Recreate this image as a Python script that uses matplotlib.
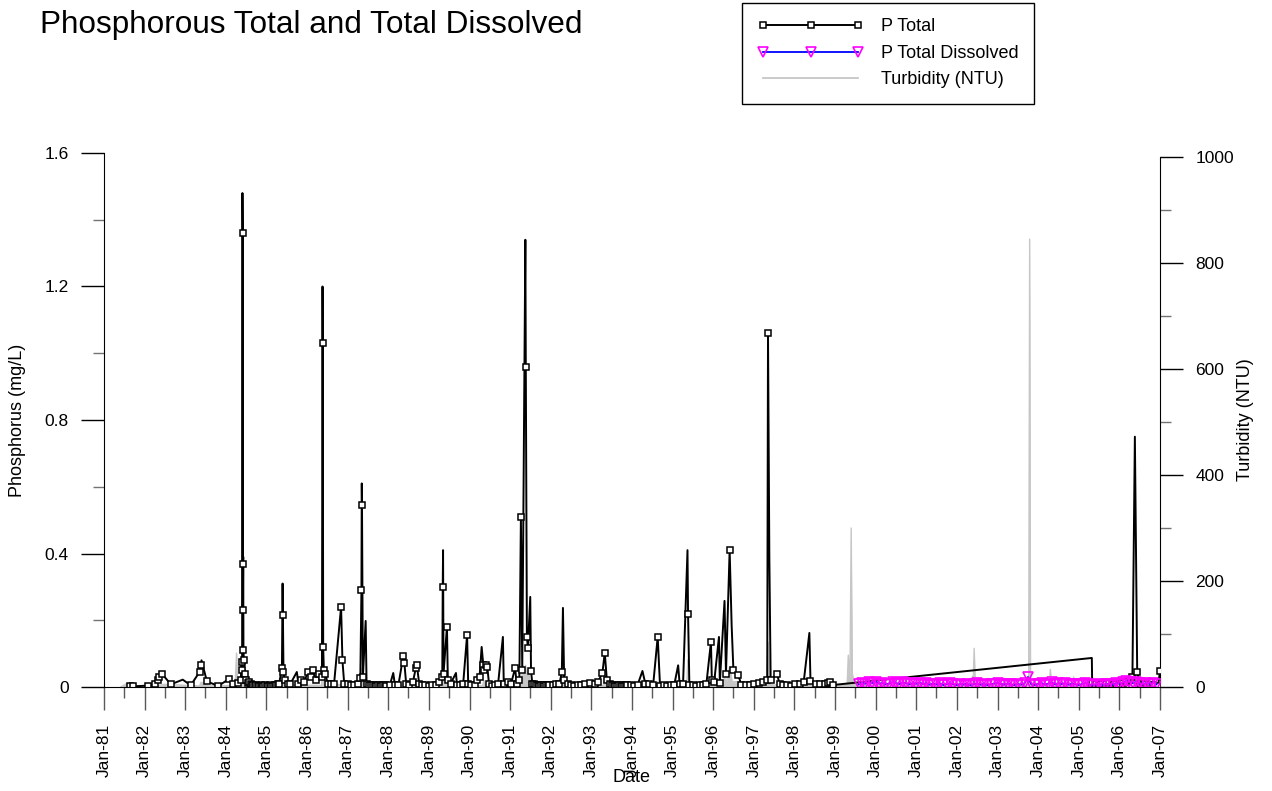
import pandas as pd
import matplotlib
matplotlib.use("Agg")
import matplotlib.pyplot as plt
import matplotlib.dates as mdates
from matplotlib.ticker import MultipleLocator, FuncFormatter
from matplotlib.lines import Line2D

plt.rcParams['font.family'] = ['Liberation Sans', 'DejaVu Sans']

# ---- P Total (mg/L) ----
p_dates = [
    '1981-08-20', '1981-09-15', '1982-01-28', '1982-04-05', '1982-04-28', '1982-05-12',
    '1982-06-05', '1982-08-25', '1982-12-10', '1983-02-20', '1983-05-10', '1983-05-20',
    '1983-05-28', '1983-07-15', '1983-10-25', '1984-01-30', '1984-03-10', '1984-04-20',
    '1984-05-15', '1984-05-22', '1984-05-27', '1984-05-30', '1984-06-01', '1984-06-03',
    '1984-06-05', '1984-06-06', '1984-06-08', '1984-06-12', '1984-06-20', '1984-07-05',
    '1984-07-20', '1984-08-01', '1984-08-12', '1984-08-25', '1984-09-05', '1984-09-20',
    '1984-10-01', '1984-10-15', '1984-10-28', '1984-11-10', '1984-11-22', '1984-12-05',
    '1984-12-18', '1985-01-05', '1985-01-18', '1985-02-01', '1985-02-15', '1985-03-01',
    '1985-03-15', '1985-04-01', '1985-04-12', '1985-04-25', '1985-05-20',
    '1985-05-26', '1985-05-29', '1985-06-03', '1985-06-15', '1985-07-10', '1985-08-05',
    '1985-10-01', '1985-10-15', '1985-11-10', '1985-12-05', '1986-01-10', '1986-02-01',
    '1986-02-25', '1986-03-20', '1986-04-15', '1986-05-15', '1986-05-20', '1986-05-22',
    '1986-05-26', '1986-06-01', '1986-06-15', '1986-07-05', '1986-08-01', '1986-09-01',
    '1986-11-03', '1986-11-15', '1986-12-01', '1987-01-05', '1987-02-01', '1987-03-01',
    '1987-04-01', '1987-04-25', '1987-05-05', '1987-05-08', '1987-05-10', '1987-05-18',
    '1987-06-12', '1987-06-20', '1987-07-15', '1987-08-01', '1987-08-15', '1987-09-01',
    '1987-09-15', '1987-10-01', '1987-10-15', '1987-11-01', '1987-11-15', '1987-12-01',
    '1987-12-15', '1988-01-15', '1988-02-15', '1988-03-01', '1988-04-01',
    '1988-05-15', '1988-05-25', '1988-06-10', '1988-07-10', '1988-08-10', '1988-09-05',
    '1988-09-15', '1988-10-05', '1988-11-01', '1988-12-01', '1989-01-01', '1989-02-01',
    '1989-03-01', '1989-04-01', '1989-05-01', '1989-05-05', '1989-05-08', '1989-05-12',
    '1989-06-12', '1989-06-20', '1989-07-15', '1989-09-01', '1989-09-10', '1989-10-10',
    '1989-11-05', '1989-12-10', '1989-12-20', '1990-01-15', '1990-02-15', '1990-03-10',
    '1990-04-01', '1990-04-20', '1990-05-05', '1990-05-15', '1990-05-25', '1990-06-10',
    '1990-06-25', '1990-07-20', '1990-08-15', '1990-09-15', '1990-10-28', '1990-11-05',
    '1990-12-10', '1991-01-10', '1991-02-15', '1991-03-01', '1991-03-25', '1991-04-08',
    '1991-04-20', '1991-05-18', '1991-05-22', '1991-06-01', '1991-06-10', '1991-07-01',
    '1991-07-08', '1991-07-20', '1991-08-05', '1991-08-20', '1991-09-05', '1991-09-20',
    '1991-10-05', '1991-10-20', '1991-11-05', '1991-11-20', '1991-12-05',
    '1991-12-20', '1992-01-20', '1992-02-20', '1992-03-20', '1992-04-10', '1992-04-20',
    '1992-05-01', '1992-06-01', '1992-07-01', '1992-08-01', '1992-09-01', '1992-10-01',
    '1992-11-01', '1992-12-20', '1993-02-01', '1993-03-01', '1993-04-10', '1993-05-01',
    '1993-05-20', '1993-06-20', '1993-07-05', '1993-07-20', '1993-08-05', '1993-08-20',
    '1993-09-05', '1993-09-20', '1993-10-05', '1993-10-20', '1993-11-05',
    '1993-11-20', '1993-12-20', '1994-01-20', '1994-02-20', '1994-04-05', '1994-05-01',
    '1994-06-01', '1994-07-10', '1994-08-20', '1994-09-10', '1994-10-15', '1994-11-15',
    '1994-12-15', '1995-01-15', '1995-02-20', '1995-03-05', '1995-04-05', '1995-05-15',
    '1995-05-20', '1995-06-01', '1995-07-01', '1995-08-01', '1995-09-01', '1995-10-01',
    '1995-11-01', '1995-12-12', '1995-12-20', '1996-01-10', '1996-02-22', '1996-03-01',
    '1996-04-12', '1996-04-25', '1996-05-28', '1996-06-15', '1996-07-01', '1996-08-15',
    '1996-09-10', '1996-10-20', '1996-11-25', '1997-01-05', '1997-02-15', '1997-03-20',
    '1997-05-01', '1997-05-08', '1997-05-20', '1997-06-01', '1997-07-27', '1997-08-20',
    '1997-09-20', '1997-10-25', '1997-12-01', '1998-01-10', '1998-02-20', '1998-03-25',
    '1998-05-15', '1998-05-25', '1998-07-10', '1998-08-20', '1998-10-01', '1998-10-30',
    '1998-11-20', '1998-12-15', '2005-04-28', '2005-05-01', '2005-06-01', '2005-07-01',
    '2005-08-01', '2005-09-01', '2005-10-01', '2005-11-01', '2005-12-01', '2006-01-05',
    '2006-02-05', '2006-03-05', '2006-04-10', '2006-04-28', '2006-05-20', '2006-06-10',
    '2006-07-01', '2006-08-01', '2006-09-01', '2006-10-01', '2006-11-01', '2006-12-15',
    '2007-01-01',
]
p_vals = [
    0.003, 0.002, 0.004, 0.008, 0.02, 0.03,
    0.04, 0.008, 0.022, 0.005, 0.045, 0.065,
    0.08, 0.017, 0.003, 0.024, 0.01, 0.012,
    0.02, 0.075, 0.05, 1.48, 1.36, 0.23,
    0.37, 0.39, 0.11, 0.08, 0.04, 0.02,
    0.012, 0.015, 0.008, 0.006, 0.005, 0.004,
    0.006, 0.003, 0.004, 0.005, 0.003, 0.003,
    0.005, 0.004, 0.003, 0.006, 0.004, 0.003,
    0.005, 0.005, 0.008, 0.01, 0.057,
    0.31, 0.217, 0.045, 0.02, 0.008, 0.01,
    0.045, 0.01, 0.02, 0.015, 0.045, 0.03,
    0.05, 0.02, 0.04, 0.03, 1.20, 1.03,
    0.12, 0.05, 0.04, 0.01, 0.008, 0.01,
    0.24, 0.08, 0.01, 0.008, 0.005, 0.006,
    0.01, 0.027, 0.29, 0.61, 0.545, 0.03,
    0.198, 0.01, 0.005, 0.007, 0.006, 0.004,
    0.004, 0.006, 0.005, 0.004, 0.006, 0.005,
    0.004, 0.005, 0.042, 0.006, 0.005,
    0.093, 0.072, 0.01, 0.006, 0.015, 0.057,
    0.065, 0.01, 0.006, 0.005, 0.004, 0.005,
    0.006, 0.015, 0.03, 0.30, 0.41, 0.04,
    0.18, 0.02, 0.01, 0.042, 0.006, 0.005,
    0.01, 0.156, 0.01, 0.005, 0.006, 0.02,
    0.03, 0.12, 0.065, 0.05, 0.065, 0.06,
    0.01, 0.004, 0.005, 0.01, 0.15, 0.01,
    0.015, 0.01, 0.057, 0.01, 0.02, 0.51,
    0.05, 1.34, 0.96, 0.15, 0.117, 0.27,
    0.048, 0.01, 0.008, 0.006, 0.005, 0.004,
    0.006, 0.005, 0.004, 0.006, 0.005,
    0.005, 0.006, 0.008, 0.01, 0.045, 0.237,
    0.02, 0.01, 0.006, 0.004, 0.006, 0.005,
    0.008, 0.012, 0.01, 0.015, 0.042, 0.103,
    0.02, 0.01, 0.007, 0.005, 0.004, 0.004,
    0.006, 0.005, 0.003, 0.004, 0.005,
    0.006, 0.005, 0.004, 0.006, 0.048, 0.01,
    0.008, 0.005, 0.15, 0.004, 0.005, 0.004,
    0.006, 0.005, 0.065, 0.01, 0.008, 0.41,
    0.22, 0.005, 0.005, 0.004, 0.005, 0.006,
    0.01, 0.135, 0.02, 0.015, 0.15, 0.013,
    0.258, 0.04, 0.41, 0.185, 0.05, 0.035,
    0.006, 0.005, 0.007, 0.01, 0.012, 0.015,
    0.02, 1.06, 0.39, 0.02, 0.04, 0.01,
    0.006, 0.005, 0.004, 0.01, 0.008, 0.015,
    0.162, 0.018, 0.01, 0.008, 0.01, 0.012,
    0.015, 0.006, 0.087, 0.012, 0.008, 0.006,
    0.01, 0.008, 0.012, 0.006, 0.01, 0.008,
    0.012, 0.015, 0.02, 0.03, 0.75, 0.045,
    0.01, 0.006, 0.008, 0.005, 0.006, 0.004,
    0.048,
]
# peaks that were plotted without a symbol in the original
p_nosymbol = ['1982-12-10', '1983-05-28', '1984-05-30', '1984-06-06', '1985-05-26',
              '1985-10-01', '1986-05-20', '1987-05-08', '1987-06-12', '1988-02-15',
              '1989-05-08', '1989-09-01', '1990-04-20', '1990-10-28', '1991-05-18',
              '1991-07-01', '1992-04-20', '1994-04-05', '1995-02-20', '1995-05-15',
              '1996-02-22', '1996-04-12', '1996-06-15', '1997-05-20', '1998-05-15',
              '2005-04-28', '2006-05-20']

# ---- P Total Dissolved (mg/L), monthly from Aug 1999 ----
pd_start = '1999-08-01'
pd_vals = [
    0.008, 0.012, 0.010, 0.015, 0.012,
    0.016, 0.010, 0.012, 0.008, 0.010, 0.015, 0.012, 0.009, 0.014, 0.011, 0.008, 0.012,
    0.010, 0.013, 0.009, 0.012, 0.007, 0.010, 0.008, 0.011, 0.006, 0.009, 0.012, 0.008,
    0.006, 0.009, 0.007, 0.010, 0.005, 0.008, 0.011, 0.007, 0.009, 0.006, 0.008, 0.010,
    0.012, 0.009, 0.007, 0.010, 0.008, 0.006, 0.009, 0.007, 0.011, 0.030, 0.008, 0.006,
    0.009, 0.012, 0.007, 0.010, 0.014, 0.008, 0.011, 0.009, 0.012, 0.007, 0.010, 0.008,
    0.006, 0.009, 0.012, 0.008, 0.005, 0.007, 0.009, 0.006, 0.008, 0.010, 0.007, 0.012,
    0.010, 0.014, 0.018, 0.016, 0.012, 0.015, 0.011, 0.008, 0.013, 0.009, 0.012, 0.008,
]

# ---- Turbidity (NTU) ----
t_dates = [
    '1981-06-01', '1981-07-20', '1981-09-10', '1982-05-01', '1982-07-01', '1983-05-10',
    '1983-05-25', '1983-08-01', '1984-03-25', '1984-04-07', '1984-04-15', '1984-05-22',
    '1984-05-30', '1984-06-10', '1985-05-18', '1985-05-28', '1985-06-10', '1986-05-12',
    '1986-05-20', '1986-06-05', '1987-04-28', '1987-05-08', '1987-05-25', '1988-05-05',
    '1988-05-15', '1988-05-28', '1989-04-28', '1989-05-08', '1989-05-25', '1990-04-28',
    '1990-05-10', '1990-05-25', '1991-04-10', '1991-04-28', '1991-05-08', '1991-05-20',
    '1991-06-01', '1991-06-15', '1991-07-01', '1992-04-10', '1992-04-20', '1992-05-01',
    '1993-04-20', '1993-05-01', '1993-05-20', '1994-08-10', '1994-08-20', '1994-09-01',
    '1995-05-10', '1995-05-18', '1995-06-01', '1996-04-02', '1996-04-12', '1996-04-25',
    '1996-05-28', '1996-06-20', '1997-04-25', '1997-05-08', '1997-05-25', '1997-06-15',
    '1998-05-05', '1998-05-15', '1998-05-25', '1999-04-20', '1999-04-30', '1999-05-15',
    '1999-05-26', '1999-06-05', '1999-06-20', '2000-03-01', '2001-05-01', '2002-05-10',
    '2002-05-20', '2002-05-26', '2002-06-05', '2002-06-15', '2003-10-08', '2003-10-17',
    '2003-10-25', '2004-04-10', '2004-04-20', '2004-05-01', '2004-11-05', '2004-11-15',
    '2004-11-25', '2005-06-01', '2006-05-10', '2006-05-20', '2006-05-30', '2006-12-31',
]
t_vals = [
    0, 6, 2, 3, 5, 2,
    9, 2, 3, 64, 6, 4,
    40, 8, 3, 25, 4, 3,
    30, 6, 3, 35, 5, 2,
    10, 2, 3, 18, 4, 2,
    12, 3, 10, 40, 14, 41,
    12, 32, 6, 3, 12, 3,
    3, 28, 4, 2, 10, 2,
    8, 51, 8, 4, 20, 5,
    38, 10, 10, 85, 15, 4,
    3, 14, 3, 5, 60, 15,
    300, 26, 8, 5, 6, 4,
    20, 5, 73, 6, 5, 845,
    8, 5, 33, 5, 4, 19,
    4, 6, 3, 15, 3, 3,
]

p_dt = pd.to_datetime(p_dates)
pd_dt = pd.date_range(pd_start, periods=len(pd_vals), freq='MS')
t_dt = pd.to_datetime(t_dates)
marked = [i for i, d in enumerate(p_dates) if d not in p_nosymbol]

W, H = 1272, 791
fig = plt.figure(figsize=(W / 100, H / 100), dpi=100)
ax = fig.add_axes([104 / W, 1 - 687 / H, (1160 - 104) / W, (687 - 153) / H])
ax2 = ax.twinx()

# turbidity in the back (right axis)
ax2.fill_between(t_dt, t_vals, 0, color='#c6c6c6', lw=0)
ax2.plot(t_dt, t_vals, color='#c6c6c6', lw=1)
ax.set_zorder(ax2.get_zorder() + 1)
ax.patch.set_visible(False)

ax.plot(p_dt, p_vals, color='black', lw=1.4, marker='s', ms=5, mfc='white',
        mec='black', mew=1.1, markevery=marked)
ax.plot(pd_dt, pd_vals, color='blue', lw=1.3, marker='v', ms=7, mfc='none',
        mec='magenta', mew=1.2)

ax.set_xlim(pd.Timestamp('1981-01-01'), pd.Timestamp('2007-01-01'))
ax.set_ylim(0, 1.6)
ax2.set_ylim(0, 1000 * 534 / 530)

for s in ['top', 'right']:
    ax.spines[s].set_visible(False)
for s in ['top', 'left', 'bottom']:
    ax2.spines[s].set_visible(False)
ax2.spines['right'].set_bounds(0, 1000)

ax.xaxis.set_major_locator(mdates.YearLocator())
ax.xaxis.set_minor_locator(mdates.MonthLocator(bymonth=7))
ax.xaxis.set_major_formatter(mdates.DateFormatter('%b-%y'))
ax.yaxis.set_major_locator(MultipleLocator(0.4))
ax.yaxis.set_minor_locator(MultipleLocator(0.2))
ax.yaxis.set_major_formatter(FuncFormatter(lambda v, p: '%g' % round(v, 2)))
ax2.yaxis.set_major_locator(MultipleLocator(200))
ax2.yaxis.set_minor_locator(MultipleLocator(100))

ax.tick_params(axis='x', which='major', direction='out', length=16.5, width=1,
               color='0.35', labelsize=12.5, labelrotation=90, pad=10)
ax.tick_params(axis='x', which='minor', direction='out', length=8, width=1, color='0.35')
ax.tick_params(axis='y', which='major', direction='out', length=16.5, width=1,
               labelsize=12.5, pad=9)
ax.tick_params(axis='y', which='minor', direction='out', length=8, width=1, color='0.45')
ax2.tick_params(axis='y', which='major', direction='out', length=16.5, width=1,
                labelsize=12.5, pad=9)
ax2.tick_params(axis='y', which='minor', direction='out', length=8, width=1, color='0.45')

fig.text(40 / W, 1 - 25 / H, 'Phosphorous Total and Total Dissolved', fontsize=22.7,
         ha='left', va='center')
fig.text(18 / W, 1 - 420 / H, 'Phosphorus (mg/L)', fontsize=13, rotation=90,
         ha='center', va='center')
fig.text(1245 / W, 1 - 420 / H, 'Turbidity (NTU)', fontsize=13, rotation=90,
         ha='center', va='center')
fig.text(632 / W, 1 - 777 / H, 'Date', fontsize=13, ha='center', va='center')

handles = [
    Line2D([], [], color='black', lw=1.4, marker='s', ms=5, mfc='white', mec='black', mew=1.1),
    Line2D([], [], color='blue', lw=1.3, marker='v', ms=7, mfc='none', mec='magenta', mew=1.2),
    Line2D([], [], color='#c6c6c6', lw=1.3),
]
leg = fig.legend(handles, ['P Total', 'P Total Dissolved', 'Turbidity (NTU)'],
                 loc='upper left', bbox_to_anchor=(742 / W, 1 - 3 / H), borderaxespad=0,
                 fontsize=13, numpoints=3, handlelength=5.9, handletextpad=0.95,
                 labelspacing=0.53, borderpad=0.85, fancybox=False, framealpha=1,
                 edgecolor='black')
leg.get_frame().set_linewidth(1.0)

fig.savefig('out.png', dpi=100)
